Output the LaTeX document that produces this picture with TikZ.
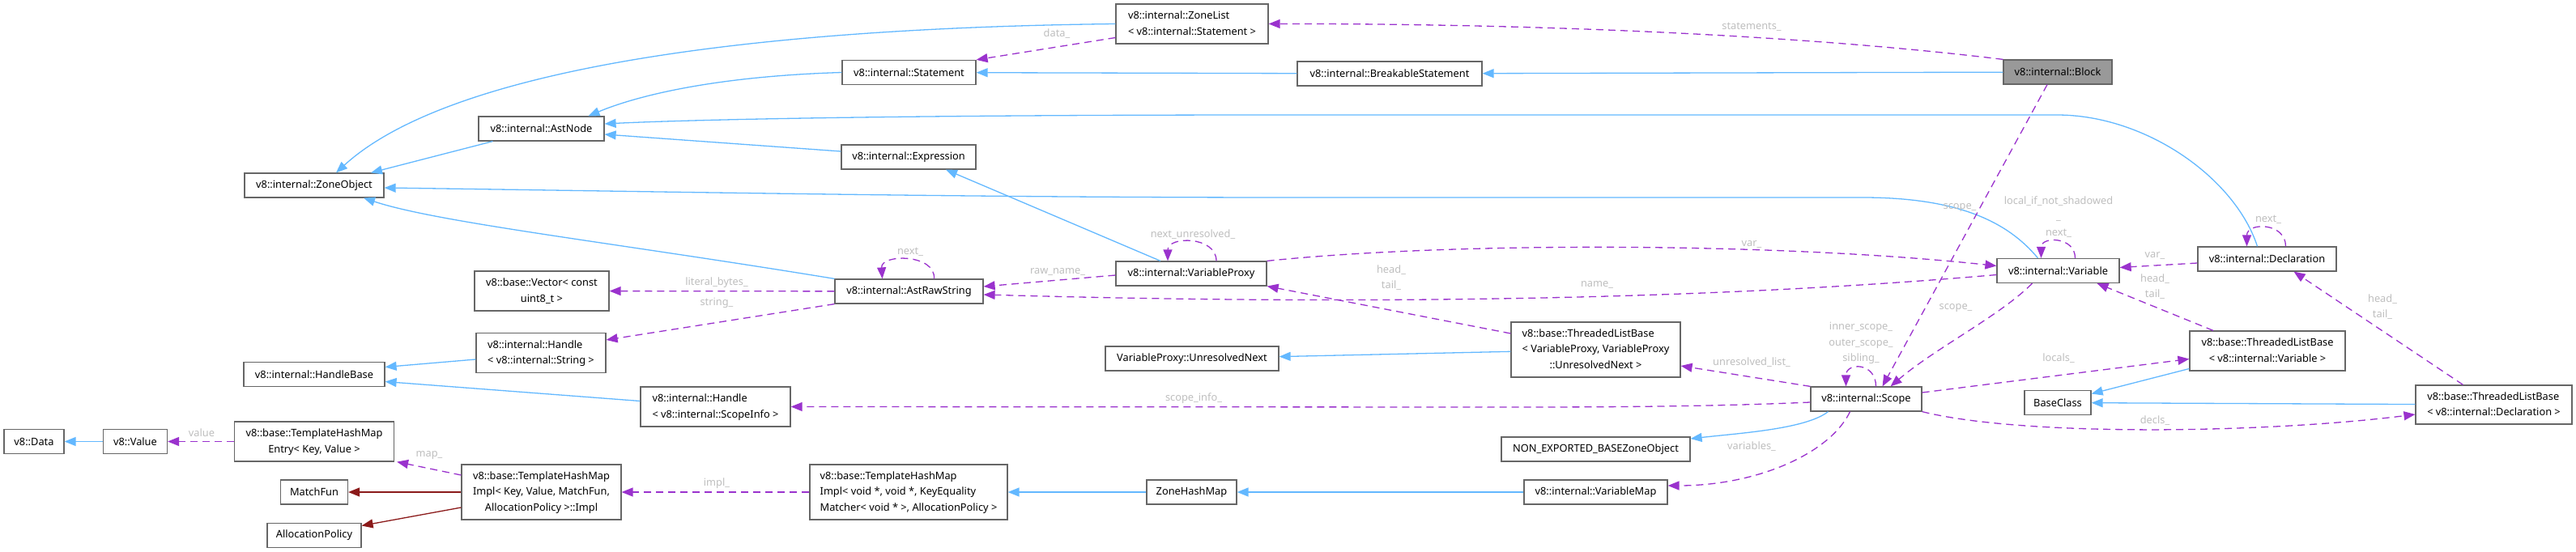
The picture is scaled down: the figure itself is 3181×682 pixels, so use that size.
\documentclass[tikz,border=0pt]{standalone}
\usepackage{fontspec}
\setmainfont{Noto Sans}
\usepackage{xcolor}
\usepackage{tikz}
\usetikzlibrary{arrows.meta, positioning}

\definecolor{inhblue}{HTML}{63B8FF}
\definecolor{deppurple}{HTML}{9A32CD}
\definecolor{tplred}{HTML}{8B1A1A}
\definecolor{boxgray}{HTML}{666666}
\definecolor{blockfill}{HTML}{999999}
\definecolor{lblgray}{HTML}{BEBEBE}

\newcommand{\twoline}[2]{\begin{tabular}{@{}l@{}}#1\\\multicolumn{1}{@{}c@{}}{#2}\end{tabular}}
\newcommand{\threeline}[3]{\begin{tabular}{@{}l@{}}#1\\#2\\\multicolumn{1}{@{}c@{}}{#3}\end{tabular}}

\begin{document}
\begin{tikzpicture}[
    x=1pt, y=-1pt,
    classbox/.style={rectangle, draw=boxgray, fill=white, line width=1.2pt, inner sep=2pt, minimum height=30pt, font=\fontsize{12.8}{19.5}\selectfont},
    mainbox/.style={classbox, fill=blockfill},
    inherit/.style={line width=1.3pt, draw=inhblue, ->, >={Triangle[length=14pt,width=11pt]}},
    member/.style={line width=1.3pt, draw=deppurple, dash pattern=on 9pt off 6pt, ->, >={Triangle[length=14pt,width=11pt]}},
    tmplarg/.style={line width=1.3pt, draw=tplred, ->, >={Triangle[length=14pt,width=11pt]}},
    elabel/.style={text=lblgray, inner sep=0pt, align=center, font=\fontsize{12.8}{19.5}\selectfont}
]
    \useasboundingbox (0,0) rectangle (3181,682);

    \node [classbox, minimum width=74pt] (data) at (42,545.5) {v8::Data};
    \node [classbox, minimum width=79pt] (value) at (167,545.5) {v8::Value};
    \node [classbox, minimum width=197pt, minimum height=49pt] (entry) at (388,545.5) {\twoline{v8::base::TemplateHashMap}{Entry< Key, Value >}};
    \node [classbox, minimum width=172pt] (zoneobject) at (388,229) {v8::internal::ZoneObject};
    \node [classbox, minimum width=174pt] (handlebase) at (388,462.5) {v8::internal::HandleBase};
    \node [classbox, minimum width=83pt] (matchfun) at (388,608) {MatchFun};
    \node [classbox, minimum width=116pt] (allocpolicy) at (388,661.5) {AllocationPolicy};

    \node [classbox, minimum width=155pt] (astnode) at (668.5,159) {v8::internal::AstNode};
    \node [classbox, minimum width=166pt, minimum height=49pt] (vector) at (669,359.5) {\twoline{v8::base::Vector< const}{uint8\_t >}};
    \node [classbox, minimum width=160pt, minimum height=49pt] (handlestring) at (668,436) {\twoline{v8::internal::Handle}{< v8::internal::String >}};
    \node [classbox, minimum width=197pt, minimum height=68pt] (implkey) at (668.5,608) {\threeline{v8::base::TemplateHashMap}{Impl< Key, Value, MatchFun,}{AllocationPolicy >::Impl}};
    \node [classbox, minimum width=185pt, minimum height=49pt] (handlescope) at (883.5,502.5) {\twoline{v8::internal::Handle}{< v8::internal::ScopeInfo >}};

    \node [classbox, minimum width=165pt] (statement) at (1122.5,89.5) {v8::internal::Statement};
    \node [classbox, minimum width=166pt] (expression) at (1122,194) {v8::internal::Expression};
    \node [classbox, minimum width=183pt] (astrawstring) at (1122.5,360) {v8::internal::AstRawString};
    \node [classbox, minimum width=244pt, minimum height=68pt] (implvoid) at (1122,608) {\threeline{v8::base::TemplateHashMap}{Impl< void *, void *, KeyEquality}{Matcher< void * >, AllocationPolicy >}};

    \node [classbox, minimum width=188pt, minimum height=49pt] (zonelist) at (1472,29.5) {\twoline{v8::internal::ZoneList}{< v8::internal::Statement >}};
    \node [classbox, minimum width=186pt] (varproxy) at (1471,338) {v8::internal::VariableProxy};
    \node [classbox, minimum width=214pt] (unresolvednext) at (1472,443) {VariableProxy::UnresolvedNext};
    \node [classbox, minimum width=111pt] (zonehashmap) at (1471.5,608) {ZoneHashMap};
    \node [classbox, minimum width=228pt] (breakable) at (1716,91) {v8::internal::BreakableStatement};

    \node [classbox, minimum width=209pt, minimum height=68pt] (tlbproxy) at (1970.5,432) {\threeline{v8::base::ThreadedListBase}{< VariableProxy, VariableProxy}{::UnresolvedNext >}};
    \node [classbox, minimum width=233pt] (nonexported) at (1970.5,555) {NON\_EXPORTED\_BASEZoneObject};
    \node [classbox, minimum width=177pt] (variablemap) at (1970.5,608) {v8::internal::VariableMap};
    \node [classbox, minimum width=137pt] (scope) at (2304.5,493) {v8::internal::Scope};

    \node [mainbox, minimum width=134pt] (block) at (2541,89) {v8::internal::Block};
    \node [classbox, minimum width=151pt] (variable) at (2541.5,334.5) {v8::internal::Variable};
    \node [classbox, minimum width=82pt] (baseclass) at (2541,497.5) {BaseClass};
    \node [classbox, minimum width=171pt] (declaration) at (2799.5,320) {v8::internal::Declaration};
    \node [classbox, minimum width=192pt, minimum height=49pt] (tlbvar) at (2800,433.5) {\twoline{v8::base::ThreadedListBase}{< v8::internal::Variable >}};
    \node [classbox, minimum width=193pt, minimum height=48pt] (tlbdecl) at (3079.5,500) {\twoline{v8::base::ThreadedListBase}{< v8::internal::Declaration >}};

    \draw [inherit] (zonelist.west) .. controls (900,35) and (550,90) .. ([xshift=27pt]zoneobject.north);
    \draw [inherit] (statement.west) .. controls (860,95) and (770,125) .. ([xshift=58pt]astnode.north);
    \draw [inherit] (breakable) -- (statement);
    \draw [inherit] (block) -- (breakable);
    \draw [inherit] ([xshift=-12pt]declaration.north) .. controls (2760,220) and (2650,142) .. (2540,142) -- (1580,142) .. controls (1100,142) and (850,148) .. ([yshift=6pt]astnode.east);
    \draw [inherit] ([yshift=7pt]expression.west) -- ([yshift=-7pt]astnode.east);
    \draw [inherit] ([xshift=-60pt]astnode.south) -- ([xshift=70pt]zoneobject.north);
    \draw [inherit] ([xshift=-25pt]variable.north) .. controls (2480,275) and (2420,244) .. (2300,244) -- (1600,244) .. controls (1200,244) and (900,238) .. ([yshift=-3pt]zoneobject.east);
    \draw [inherit] (astrawstring.north west) .. controls (760,300) and (540,275) .. ([xshift=61pt]zoneobject.south);
    \draw [inherit] ([xshift=-38pt]varproxy.north) -- ([xshift=46pt]expression.south);
    \draw [inherit] ([yshift=-8pt]handlestring.west) -- ([yshift=9pt]handlebase.east);
    \draw [inherit] ([yshift=7pt]handlescope.west) -- ([yshift=-9pt]handlebase.east);
    \draw [inherit] (tlbproxy) -- (unresolvednext);
    \draw [inherit] ([xshift=-47pt]scope.south) .. controls (2230,530) and (2150,535) .. ([yshift=13pt]nonexported.east);
    \draw [inherit] (variablemap) -- (zonehashmap);
    \draw [inherit] (zonehashmap) -- (implvoid);
    \draw [inherit] ([yshift=-22pt]tlbvar.west) -- ([yshift=11pt]baseclass.east);
    \draw [inherit] (tlbdecl) -- (baseclass);
    \draw [inherit] (value) -- (data);

    \draw [tmplarg] (implkey) -- (matchfun);
    \draw [tmplarg] ([yshift=-19pt]implkey.west) -- ([yshift=12pt]allocpolicy.east);

    \draw [member] (block.north west) .. controls (2200,40) and (1850,29) .. (zonelist.east) node [elabel] at (2163,33) {statements\_};
    \draw [member] ([yshift=-17pt]zonelist.west) -- (statement.north east) node [elabel] at (1305,42) {data\_};
    \draw [member] ([xshift=-13pt]block.south) -- ([xshift=20pt]scope.north) node [elabel] at (2420,257) {scope\_};
    \draw [member] ([xshift=21pt]variable.north) .. controls +(0,-27) and +(0,-27) .. ([xshift=-21pt]variable.north) node [elabel] at (2542,268) {local\_if\_not\_shadowed\\\_\\next\_};
    \draw [member] ([xshift=23pt]declaration.north) .. controls +(0,-30) and +(0,-30) .. ([xshift=-25pt]declaration.north) node [elabel] at (2801,271) {next\_};
    \draw [member] ([yshift=-5pt]declaration.west) -- ([yshift=4pt]variable.east) node [elabel] at (2661,316) {var\_};
    \draw [member] (varproxy.north east) .. controls (1800,298) and (2200,300) .. ([yshift=6pt]variable.west) node [elabel] at (2163,302) {var\_};
    \draw [member] ([yshift=-5pt]variable.west) .. controls (2000,380) and (1500,372) .. ([yshift=-4pt]astrawstring.east) node [elabel] at (1972,352) {name\_};
    \draw [member] ([yshift=-2pt]varproxy.west) -- ([yshift=6pt]astrawstring.east) node [elabel] at (1306,336) {raw\_name\_};
    \draw [member] ([xshift=31pt]astrawstring.north) .. controls +(2,-31) and +(-2,-31) .. ([xshift=-33pt]astrawstring.north) node [elabel] at (1124,311) {next\_};
    \draw [member] ([xshift=31pt]varproxy.north) .. controls +(0,-31) and +(0,-31) .. ([xshift=-29pt]varproxy.north) node [elabel] at (1473,290) {next\_unresolved\_};
    \draw [member] ([yshift=20pt]tlbproxy.west) -- (varproxy.south east) node [elabel] at (1718,343) {head\_\\tail\_};
    \draw [member] ([xshift=-67pt]tlbvar.north) -- ([xshift=48pt]variable.south) node [elabel] at (2661,354) {head\_\\tail\_};
    \draw [member] ([xshift=-38pt]tlbdecl.north) -- ([xshift=33pt]declaration.south) node [elabel] at (2942,379) {head\_\\tail\_};
    \draw [member] ([xshift=-32pt]variable.south) .. controls (2470,390) and (2390,430) .. ([xshift=30pt]scope.north) node [elabel] at (2415,381) {scope\_};
    \draw [member] ([xshift=12pt]scope.north) .. controls +(0,-30) and +(0,-30) .. ([xshift=-25pt]scope.north) node [elabel] at (2298,424) {inner\_scope\_\\outer\_scope\_\\sibling\_};
    \draw [member] (scope.north west) -- ([yshift=-20pt]tlbproxy.east) node [elabel] at (2163,448) {unresolved\_list\_};
    \draw [member] ([yshift=-4pt]scope.west) .. controls (2100,503) and (1950,503) .. (1850,503) -- (handlescope.east) node [elabel] at (1474,492) {scope\_info\_};
    \draw [member] ([xshift=-20pt]scope.south) .. controls (2260,560) and (2170,600) .. ([yshift=8pt]variablemap.east) node [elabel] at (2163,552) {variables\_};
    \draw [member] ([yshift=8pt]scope.east) -- ([yshift=-10pt]tlbvar.west) node [elabel] at (2542,443) {locals\_};
    \draw [member] (scope.south east) .. controls (2500,540) and (2800,535) .. ([yshift=-12pt]tlbdecl.west) node [elabel] at (2661,520) {decls\_};
    \draw [member] (astrawstring) -- (vector) node [elabel] at (885,349) {literal\_bytes\_};
    \draw [member] (astrawstring.south west) -- ([yshift=16pt]handlestring.east) node [elabel] at (885,374) {string\_};
    \draw [member] (entry) -- (value) node [elabel] at (249,535) {value};
    \draw [member] ([yshift=21pt]implkey.west) -- ([xshift=3pt]entry.south east) node [elabel] at (530,563) {map\_};
    \draw [member] (implvoid) -- (implkey) node [elabel] at (885,597) {impl\_};
\end{tikzpicture}
\end{document}
